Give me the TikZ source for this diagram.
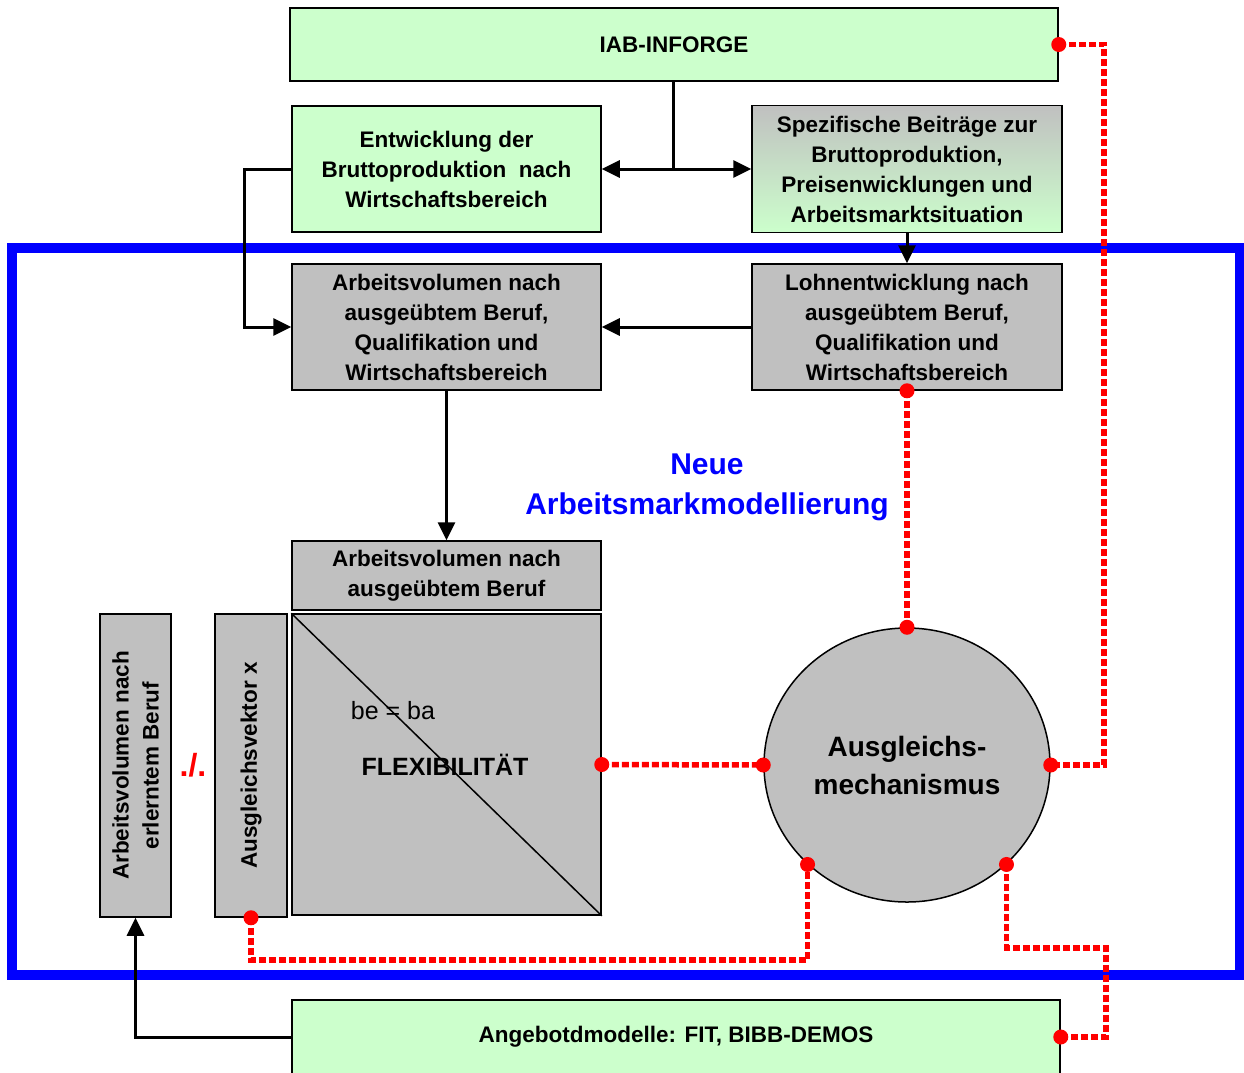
\documentclass[tikz,border=0pt]{standalone}
\usepackage{fontspec}
\setmainfont{Liberation Sans}
\usetikzlibrary{arrows.meta,shapes.geometric}
\definecolor{boxgreen}{HTML}{CCFFCC}
\definecolor{boxgray}{HTML}{C0C0C0}
\newcommand{\rdot}[1] {
    \fill[red] (#1) circle (7.5);
}
\begin{document}
\begin{tikzpicture}[x=1pt,y=-1pt,
        box/.style={draw,line width=1.5pt,align=center,inner sep=2pt,
            font=\fontsize{22.5}{30}\selectfont\bfseries},
        greenbox/.style={box,fill=boxgreen},
        graybox/.style={box,fill=boxgray},
        conn/.style={line width=3pt},
        arr/.style={conn,-{Triangle[length=18pt,width=17pt]}},
        reddash/.style={red,line width=5.5pt,dash pattern=on 7pt off 3pt}
    ]
    \clip (0,0) rectangle (1244,1072);
    % frame
    \draw[blue,line width=10pt] (12,248) rectangle (1240,975);
    % top row
    \node[greenbox,minimum width=768pt,minimum height=73pt] (iab) at (674,44.5) {IAB-INFORGE};
    \node[greenbox,minimum width=309pt,minimum height=126pt] (entw) at (446.5,169)
        {Entwicklung der\\Bruttoproduktion\ \ nach\\Wirtschaftsbereich};
    \node[box,top color=boxgray,bottom color=boxgreen,minimum width=310pt,minimum height=127pt] (spez) at (907,169)
        {Spezifische Beiträge zur\\Bruttoproduktion,\\Preisenwicklungen und\\Arbeitsmarktsituation};
    % inside the frame
    \node[graybox,minimum width=309pt,minimum height=126pt] (avol) at (446.5,327)
        {Arbeitsvolumen nach\\ausgeübtem Beruf,\\Qualifikation und\\Wirtschaftsbereich};
    \node[graybox,minimum width=310pt,minimum height=126pt] (lohn) at (907,327)
        {Lohnentwicklung nach\\ausgeübtem Beruf,\\Qualifikation und\\Wirtschaftsbereich};
    \node[blue,align=center,font=\fontsize{30}{40}\selectfont\bfseries] (titel) at (707,487)
        {Neue\\Arbeitsmarkmodellierung};
    \node[graybox,minimum width=309pt,minimum height=69pt] (abeh) at (446.5,575.5)
        {Arbeitsvolumen nach\\ausgeübtem Beruf};
    \node[graybox,minimum width=309pt,minimum height=301pt] (flex) at (446.5,764.5) {};
    \draw[line width=1.5pt] (flex.north west) -- (flex.south east);
    \node[font=\fontsize{25}{30}\selectfont] (beba) at (393,711) {be = ba};
    \node[font=\fontsize{25}{30}\selectfont\bfseries] (flext) at (445,765) {FLEXIBILITÄT};
    \node[graybox,rotate=90,minimum width=303pt,minimum height=72pt] (avx) at (251,765.5)
        {Ausgleichsvektor x};
    \node[graybox,rotate=90,minimum width=303pt,minimum height=71pt] (aerl) at (135.5,765.5)
        {Arbeitsvolumen nach\\erlerntem Beruf};
    \node[red,font=\fontsize{32}{30}\selectfont\bfseries] (minus) at (193,765) {./.};
    \node[ellipse,draw,fill=boxgray,line width=1.5pt,minimum width=286pt,minimum height=274pt,
        inner sep=0pt,align=center,font=\fontsize{28}{38}\selectfont\bfseries] (ausgl) at (907,765)
        {Ausgleichs-\\mechanismus};
    % bottom
    \node[greenbox,minimum width=768pt,minimum height=74pt] (ang) at (676,1037)
        {Angebotdmodelle: FIT, BIBB-DEMOS};
    % black connectors
    \coordinate (split) at (673,169);
    \draw[conn] (iab.south -| split) -- (split);
    \draw[arr] (split) -- (entw.east);
    \draw[arr] (split) -- (spez.west);
    \draw[arr] (spez.south) -- (lohn.north);
    \draw[arr] (lohn.west) -- (avol.east);
    \draw[arr] (entw.west) -- ++(-47,0) |- (avol.west);
    \draw[arr] (avol.south) -- (abeh.north);
    \draw[arr] (ang.west) -| (aerl.west);
    % red links
    \coordinate (r1) at (1104,765);
    \coordinate (b1) at (0,960);
    \coordinate (c1) at (1106,948);
    \draw[reddash] (lohn.south) -- (ausgl.north);
    \draw[reddash] (flex.east) -- (ausgl.west);
    \draw[reddash] (iab.east) -| (r1) -- (ausgl.east);
    \draw[reddash] (avx.west) |- (b1 -| ausgl.225) -- (ausgl.225);
    \draw[reddash] (ausgl.315) |- (c1) |- (ang.east);
    \foreach \p in {lohn.south,ausgl.north,flex.east,ausgl.west,iab.east,ausgl.east,
        avx.west,ausgl.225,ausgl.315,ang.east}
        {\rdot{\p}}
\end{tikzpicture}
\end{document}
